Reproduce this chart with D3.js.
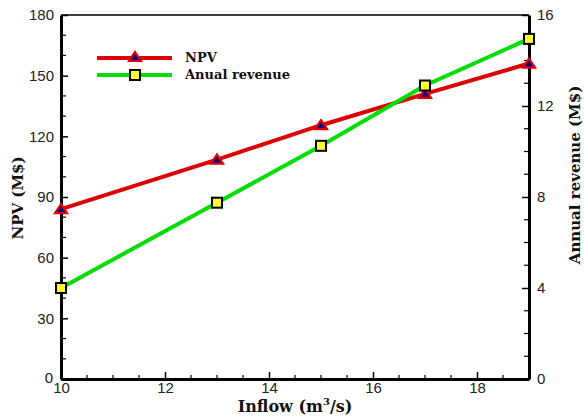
<!DOCTYPE html>
<html><head><meta charset="utf-8">
<script src="https://cdn.jsdelivr.net/npm/d3@7"></script>
<style>
body{margin:0;background:#fff;}
svg{display:block;}
.tick text{font-family:"Liberation Sans",Arial,sans-serif;font-size:15px;fill:#222;}
.title{font-family:"DejaVu Serif",serif;font-weight:bold;font-size:15px;fill:#111;}
</style></head>
<body>
<script>
const inflow = [10, 13, 15, 17, 19];
const npv = [84, 108.5, 125.5, 141, 156];
const revenue = [4.0, 7.75, 10.25, 12.9, 14.95];
const xTicks = [10, 12, 14, 16, 18];
const npvTicks = [0, 30, 60, 90, 120, 150, 180];
const revTicks = [0, 4, 8, 12, 16];
const seriesNames = ["NPV", "Anual revenue"];

const W = 584, H = 418;
const m = {l: 61, r: 55, t: 15, b: 39};
const svg = d3.select("body").append("svg").attr("width", W).attr("height", H);

const x = d3.scaleLinear().domain([10, 19]).range([m.l, W - m.r]);
const yL = d3.scaleLinear().domain([0, 180]).range([H - m.b, m.t]);
const yR = d3.scaleLinear().domain([0, 16]).range([H - m.b, m.t]);

const minorX = d3.range(10, 19.01, 0.5).filter(v => !xTicks.includes(v));
const minorL = d3.range(0, 180.1, 10).filter(v => !npvTicks.includes(v));
const minorR = d3.range(0, 16.1, 1).filter(v => !revTicks.includes(v));

svg.append("line").attr("x1", m.l).attr("x2", W - m.r).attr("y1", m.t).attr("y2", m.t)
  .attr("stroke", "#000").attr("stroke-width", 1.5);

// bottom axis
const gx = svg.append("g").attr("transform", `translate(0,${H - m.b})`)
  .call(d3.axisTop(x).tickValues(xTicks).tickSize(7).tickSizeOuter(0).tickFormat(d3.format("d")));
gx.selectAll(".tick text").attr("y", 3).attr("dy", "0.71em");
gx.select(".domain").attr("stroke-width", 3);
gx.selectAll(".tick line").attr("stroke-width", 1.5);
gx.append("g").selectAll("line").data(minorX).join("line")
  .attr("x1", d => x(d)).attr("x2", d => x(d)).attr("y1", 0).attr("y2", -4)
  .attr("stroke", "#000").attr("stroke-width", 1.2);

// left axis
const gl = svg.append("g").attr("transform", `translate(${m.l},0)`)
  .call(d3.axisRight(yL).tickValues(npvTicks).tickSize(7).tickSizeOuter(0).tickFormat(d => d === 0 ? "" : d));
gl.selectAll(".tick text").attr("x", -7).attr("text-anchor", "end");
gl.select(".domain").attr("stroke-width", 3);
gl.selectAll(".tick line").attr("stroke-width", 1.5);
gl.append("g").selectAll("line").data(minorL).join("line")
  .attr("y1", d => yL(d)).attr("y2", d => yL(d)).attr("x1", 0).attr("x2", 5)
  .attr("stroke", "#000").attr("stroke-width", 1.2);
svg.append("text").attr("x", m.l - 8).attr("y", H - m.b + 4).attr("text-anchor", "end")
  .attr("font-family", "Liberation Sans, Arial, sans-serif").attr("font-size", 15).attr("fill", "#222").text("0");

// right axis
const gr = svg.append("g").attr("transform", `translate(${W - m.r},0)`)
  .call(d3.axisLeft(yR).tickValues(revTicks).tickSize(7).tickSizeOuter(0).tickFormat(d3.format("d")));
gr.selectAll(".tick text").attr("x", 8).attr("text-anchor", "start");
gr.select(".domain").attr("stroke-width", 3);
gr.selectAll(".tick line").attr("stroke-width", 1.5);
gr.append("g").selectAll("line").data(minorR).join("line")
  .attr("y1", d => yR(d)).attr("y2", d => yR(d)).attr("x1", 0).attr("x2", -5)
  .attr("stroke", "#000").attr("stroke-width", 1.2);

// axis titles
svg.append("text").attr("class", "title").attr("text-anchor", "middle")
  .attr("transform", `translate(23,${(m.t + H - m.b) / 2 + 1}) rotate(-90)`).text("NPV (M$)");
svg.append("text").attr("class", "title").attr("text-anchor", "middle")
  .attr("transform", `translate(580,${(m.t + H - m.b) / 2 - 22}) rotate(-90)`).text("Annual revenue (M$)");
const xt = svg.append("text").attr("class", "title").attr("text-anchor", "middle").style("font-size", "16px")
  .attr("x", 295).attr("y", 412).text("Inflow (m");
xt.append("tspan").style("font-size", "10px").attr("dy", -7).text("3");
xt.append("tspan").attr("dy", 7).text("/s)");

// lines
const npvData = inflow.map((v, i) => [v, npv[i]]);
const revData = inflow.map((v, i) => [v, revenue[i]]);
svg.append("path").datum(npvData).attr("fill", "none").attr("stroke", "#dd0000").attr("stroke-width", 4)
  .attr("d", d3.line().x(d => x(d[0])).y(d => yL(d[1])));
svg.append("path").datum(revData).attr("fill", "none").attr("stroke", "#00dd00").attr("stroke-width", 4)
  .attr("d", d3.line().x(d => x(d[0])).y(d => yR(d[1])));

function tri(g, cx, cy) {
  g.append("path").attr("d", `M${cx},${cy - 5}L${cx + 6},${cy + 4}L${cx - 6},${cy + 4}Z`)
    .attr("fill", "#00008b").attr("stroke", "#dd0000").attr("stroke-width", 2.2).attr("stroke-linejoin", "miter");
}
function sq(g, cx, cy) {
  g.append("rect").attr("x", cx - 5).attr("y", cy - 5).attr("width", 10).attr("height", 10)
    .attr("fill", "#ffff33").attr("stroke", "#000").attr("stroke-width", 2);
}
npvData.forEach(d => tri(svg, x(d[0]), yL(d[1])));
revData.forEach(d => sq(svg, x(d[0]), yR(d[1])));

// legend
const lg = svg.append("g");
lg.append("line").attr("x1", 97).attr("x2", 172).attr("y1", 58).attr("y2", 58).attr("stroke", "#dd0000").attr("stroke-width", 4);
tri(lg, 135, 57);
lg.append("line").attr("x1", 97).attr("x2", 172).attr("y1", 75).attr("y2", 75).attr("stroke", "#00dd00").attr("stroke-width", 4);
sq(lg, 135, 75);
lg.append("text").attr("class", "title").attr("x", 185).attr("y", 62).style("font-size", "13px").text(seriesNames[0]);
lg.append("text").attr("class", "title").attr("x", 185).attr("y", 79).style("font-size", "13px").text(seriesNames[1]);
</script>
</body></html>
